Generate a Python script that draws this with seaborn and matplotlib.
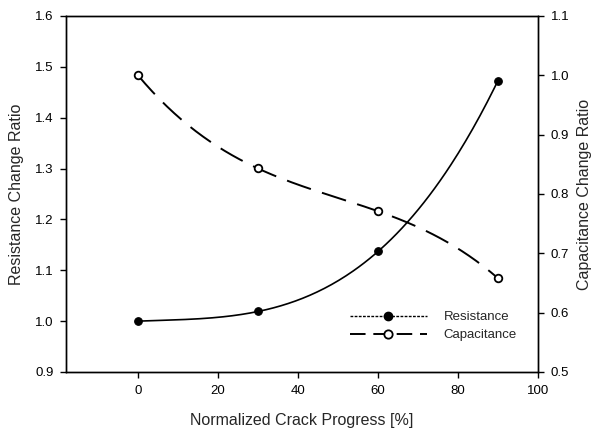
import numpy as np
import pandas as pd
import matplotlib
matplotlib.use("Agg")
import matplotlib.pyplot as plt
from matplotlib.lines import Line2D
import seaborn as sns

crack = [0, 30, 60, 90]
resistance = [1.000, 1.019, 1.137, 1.473]
capacitance = [1.000, 0.843, 0.771, 0.658]

x_ticks = [0, 20, 40, 60, 80, 100]
left_ticks = [0.9, 1.0, 1.1, 1.2, 1.3, 1.4, 1.5, 1.6]
right_ticks = [0.5, 0.6, 0.7, 0.8, 0.9, 1.0, 1.1]

sns.set_theme(style="ticks")
plt.rcParams['font.family'] = ['Liberation Sans', 'DejaVu Sans']

fig = plt.figure(figsize=(5.95, 4.33), dpi=100)
ax = fig.add_axes([66/595, 1 - 372/433, (538 - 66)/595, (372 - 16)/433])
ax2 = ax.twinx()

# smooth curves (cubic through the points)
xs = np.linspace(crack[0], crack[-1], 200)
r_fit = np.polyval(np.polyfit(crack, resistance, 3), xs)
c_fit = np.polyval(np.polyfit(crack, capacitance, 3), xs)

sns.lineplot(x=xs, y=r_fit, ax=ax, color='black', lw=1.2, sort=False)
sns.scatterplot(x=crack, y=resistance, ax=ax, color='black', s=30, marker='o',
                edgecolor='black', linewidth=0.8, zorder=5)

sns.lineplot(x=xs, y=c_fit, ax=ax2, color='black', lw=1.4, sort=False,
             dashes=False)
ax2.lines[-1].set_dashes([13, 6])
sns.scatterplot(x=crack, y=capacitance, ax=ax2, s=30, marker='o',
                facecolor='white', edgecolor='black', linewidth=1.3, zorder=5)

ax.set_xlim(-18, 100)
ax.set_ylim(0.9, 1.6)
ax2.set_ylim(0.5, 1.1)
ax.set_xticks(x_ticks)
ax.set_yticks(left_ticks)
ax2.set_yticks(right_ticks)
ax.set_xticklabels([str(v) for v in x_ticks])
ax.set_yticklabels([f"{v:.1f}" for v in left_ticks])
ax2.set_yticklabels([f"{v:.1f}" for v in right_ticks])

for a in (ax, ax2):
    for s in a.spines.values():
        s.set_visible(True)
        s.set_color('black')
        s.set_linewidth(1.0)
    a.tick_params(direction='out', length=4, width=1.0, colors='black',
                  labelsize=9.5, pad=5)

ax.set_xlabel("Normalized Crack Progress [%]", fontsize=11.5, labelpad=12)
ax.set_ylabel("Resistance Change Ratio", fontsize=11.5, labelpad=8)
ax2.set_ylabel("Capacitance Change Ratio", fontsize=11.5, labelpad=6,
               rotation=90)

handles = [
    Line2D([], [], color='black', lw=1.0, ls=(0, (2, 1)), marker='o',
           markersize=6, markerfacecolor='black', markeredgecolor='black'),
    Line2D([], [], color='black', lw=1.4, ls=(0, (8, 4)), marker='o',
           markersize=6, markerfacecolor='white', markeredgecolor='black',
           markeredgewidth=1.3),
]
ax2.legend(handles, ["Resistance", "Capacitance"], loc='upper left',
           bbox_to_anchor=((350 - 66) / 472, (372 - 311) / 356),
           frameon=False, fontsize=9.5, borderpad=0, borderaxespad=0,
           handlelength=5.8, handletextpad=1.3, labelspacing=0.45,
           markerfirst=True)

fig.savefig("out.png", dpi=100)
